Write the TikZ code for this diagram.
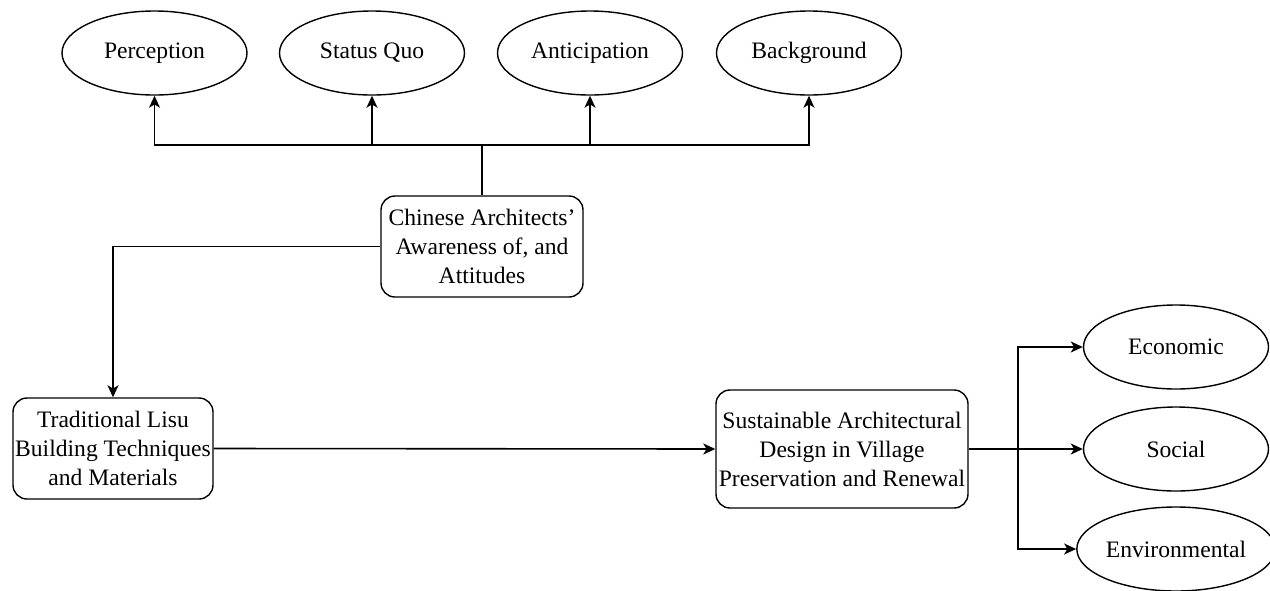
\documentclass[tikz,border=0pt]{standalone}
\usepackage{fontspec}
\setmainfont{Liberation Serif}
\usetikzlibrary{arrows.meta}
\usetikzlibrary{shapes.geometric}
\tikzset{
	oval/.style={ellipse, minimum width=92.5pt, minimum height=42pt, inner sep=0pt, text centered, draw=black, line width=0.7pt},
	rbox/.style={rectangle, rounded corners=7pt, minimum height=50.5pt, inner sep=0pt, align=center, draw=black, line width=0.7pt},
	arrow/.style={line width=0.8pt,-{Stealth[length=6pt,width=5.5pt,inset=1.6pt]}},
	line/.style={line width=0.8pt},
}

\begin{document}
\begin{tikzpicture}[x=0.5pt,y=-0.5pt,font=\fontsize{11.8}{14.5}\selectfont]
\useasboundingbox (0,0) rectangle (1270,590);

\node [oval] (perc) at (154.5,53) {Perception};
\node [oval] (squo) at (372,53) {Status Quo};
\node [oval] (antic) at (590,53) {Anticipation};
\node [oval] (backg) at (809,53) {Background};

\node [rbox,minimum width=101pt] (aware) at (482,246.5) {Chinese Architects'\\Awareness of, and\\Attitudes};
\node [rbox,minimum width=100pt] (lisu) at (113,448.5) {Traditional Lisu\\Building Techniques\\and Materials};
\node [rbox,minimum width=126pt,minimum height=59pt] (sust) at (842,449) {Sustainable Architectural\\Design in Village\\Preservation and Renewal};

\node [oval] (econ) at (1176,347) {Economic};
\node [oval] (soc) at (1176,449) {Social};
\node [oval] (env) at (1176,549) {Environmental};

% fork above the awareness box
\coordinate (hub) at (482,145);
\draw [line] (aware.north) -- (hub);
\draw [arrow] (hub) -| (perc.south);
\draw [arrow] (hub) -| (squo.south);
\draw [arrow] (hub) -| (antic.south);
\draw [arrow] (hub) -| (backg.south);

\draw [arrow] (aware.west) -| (lisu.north);
\draw [arrow] (lisu.east) -- (sust.west);

% fork to the three pillars
\coordinate (split) at (1018,449);
\draw [line] (sust.east) -- (split);
\draw [arrow] (split) |- (econ.west);
\draw [arrow] (split) -- (soc.west);
\draw [arrow] (split) |- (env.west);
\end{tikzpicture}
\end{document}
